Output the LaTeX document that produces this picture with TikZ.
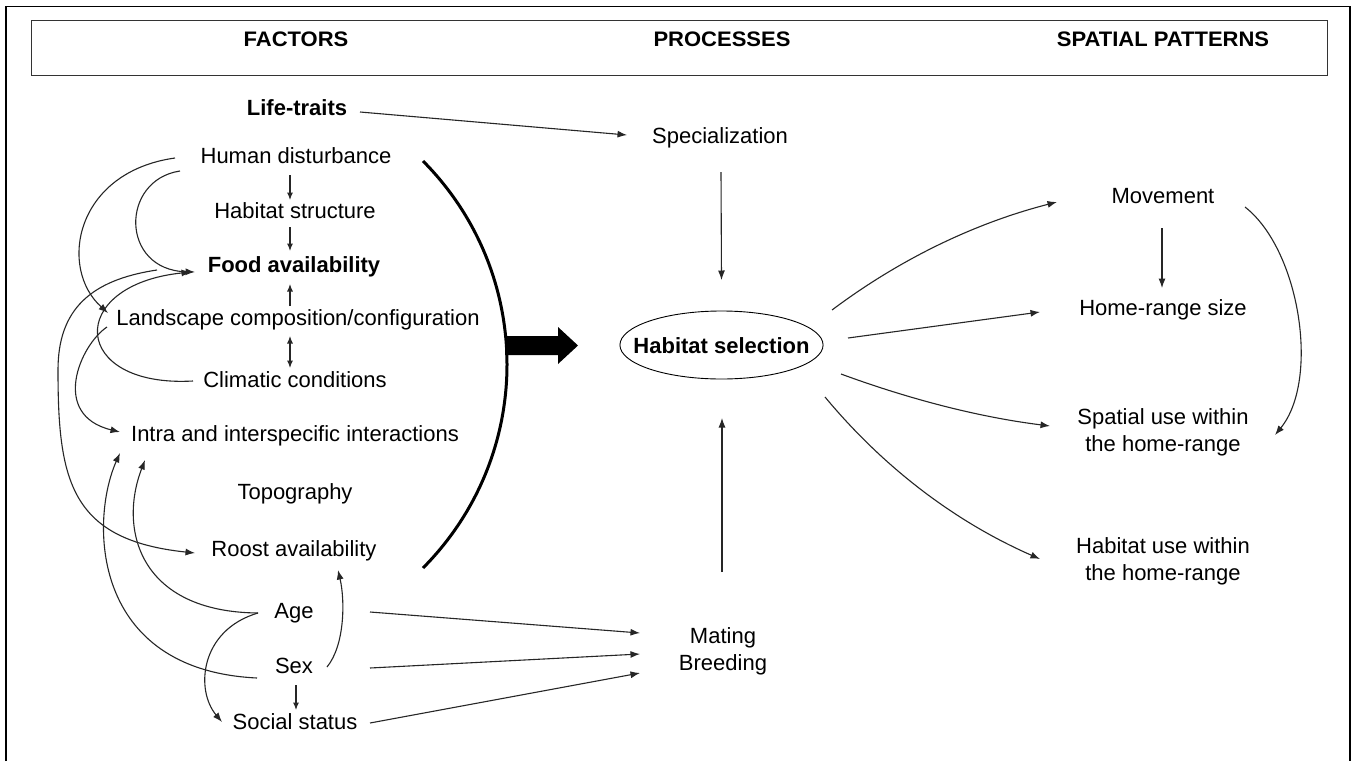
\documentclass[tikz,border=0pt]{standalone}
\usepackage{fontspec}
\setmainfont{Liberation Sans}
\usetikzlibrary{arrows.meta,shapes.geometric}
\begin{document}
\begin{tikzpicture}[x=1pt,y=-1pt,
  txt/.style={font=\fontsize{22}{27}\selectfont, inner sep=0pt, text height=16pt, text depth=5pt},
  txtb/.style={txt, font=\fontsize{22}{27}\selectfont\bfseries},
  txt2/.style={font=\fontsize{22}{27}\selectfont, inner sep=0pt, align=center},
  head/.style={font=\fontsize{20}{24}\selectfont\bfseries, inner sep=0pt, anchor=base},
  ell/.style={ellipse, draw, line width=0.9pt, inner xsep=-16.2pt, inner ysep=16pt, minimum width=203pt, minimum height=68pt, text height=16pt, text depth=0pt, font=\fontsize{22}{27}\selectfont\bfseries},
  con/.style={line width=1.1pt, draw=black!85, -{Latex[length=9.5pt,width=7pt]}},
  cons/.style={line width=1.1pt, draw=black!85, -{Latex[length=7.5pt,width=6pt]}},
  consd/.style={line width=1.1pt, draw=black!85, {Latex[length=7.5pt,width=6pt]}-{Latex[length=7.5pt,width=6pt]}}]
\useasboundingbox (0,0) rectangle (1357,761);
\fill[white] (0,0) rectangle (1357,761);
% frames
\draw[line width=1.6pt] (6,761) -- (6,6.5) -- (1350,6.5) -- (1350,761);
\node[draw, line width=1.2pt, draw=black!80, minimum width=1296pt, minimum height=55pt, inner sep=0pt, anchor=north west] (hdr) at (31,20) {};
\node[head] (h1) at (296,46) {\scalebox{1.1}[1.05]{FACTORS}};
\node[head] (h2) at (722,46) {\scalebox{1.1}[1.05]{PROCESSES}};
\node[head] (h3) at (1163,46) {\scalebox{1.1}[1.05]{SPATIAL PATTERNS}};
% nodes
\node[txtb] (lt) at (297,110) {Life-traits};
\node[txt] (hd) at (296,158) {Human disturbance};
\node[txt] (hst) at (295,213) {Habitat structure};
\node[txtb] (fa) at (294,267) {Food availability};
\node[txt] (lc) at (298,320) {Landscape composition/configuration};
\node[txt] (cc) at (295,382) {Climatic conditions};
\node[txt] (ii) at (295,436) {Intra and interspecific interactions};
\node[txt] (tp) at (295,494) {Topography};
\node[txt] (ra) at (294,551) {Roost availability};
\node[txt] (age) at (294,613) {Age};
\node[txt] (sex) at (294,668) {Sex};
\node[txt] (ss) at (295,724) {Social status};
\node[txt] (spec) at (720,138) {Specialization};
\node[ell] (hs) at (721.5,345) {Habitat selection};
\node[txt2] (mb) at (723,651) {Mating\\Breeding};
\node[txt] (mv) at (1163,198) {Movement};
\node[txt] (hr) at (1163,310) {Home-range size};
\node[txt2] (su) at (1163,432) {Spatial use within\\the home-range};
\node[txt2] (hu) at (1163,561) {Habitat use within\\the home-range};
% big arc and block arrow
\draw[line width=3pt] (423,161) .. controls (535,274) and (535,455) .. (423,568);
\fill (505,336) -- (558,336) -- (558,327) -- (578,345.5) -- (558,364) -- (558,355) -- (505,355) -- cycle;
% straight connectors
\draw[con] ([shift={(63,2)}]lt.center) -- ([shift={(-93,-3)}]spec.center);
\draw[cons] ([shift={(-6,17)}]hd.center) -- ([shift={(-5,-13)}]hst.center);
\draw[cons] ([shift={(-5,14)}]hst.center) -- ([shift={(-4,-16)}]fa.center);
\draw[cons] ([shift={(-8,-14)}]lc.center) -- ([shift={(-4,17)}]fa.center);
\draw[consd] ([shift={(-8,16)}]lc.center) -- ([shift={(-5,-14)}]cc.center);
\draw[cons] ([shift={(2,17)}]sex.center) -- ([shift={(1,-14)}]ss.center);
\draw[con] ([shift={(1,34)}]spec.center) -- ([shift={(0,-65)}]hs.center);
\draw[con] ([shift={(-1,-79)}]mb.center) -- ([shift={(0.5,73)}]hs.center);
\draw[con] ([shift={(76,-1)}]age.center) -- ([shift={(-83,-18)}]mb.center);
\draw[con] ([shift={(76,0)}]sex.center) -- ([shift={(-83,3)}]mb.center);
\draw[con] ([shift={(75,-1)}]ss.center) -- ([shift={(-83,22)}]mb.center);
% right side
\draw[con] ([shift={(110.5,-35)}]hs.center) .. controls +(68,-51) and +(-82,21) .. ([shift={(-106,4)}]mv.center);
\draw[con] ([shift={(126.5,-7)}]hs.center) -- ([shift={(-123,2)}]hr.center);
\draw[con] ([shift={(119.5,29)}]hs.center) .. controls +(68,25) and +(-72,-9) .. ([shift={(-113,-6)}]su.center);
\draw[con] ([shift={(103.5,52)}]hs.center) .. controls +(59,71) and +(-84.5,-37) .. ([shift={(-123,-2)}]hu.center);
\draw[con] ([shift={(82,9)}]mv.center) .. controls +(55,43) and +(45,-55) .. ([shift={(112,3)}]su.center);
\draw[con] ([shift={(-1,30)}]mv.center) -- ([shift={(-1,-22)}]hr.center);
% left curves
\draw[con] ([shift={(-121,0)}]hd.center) .. controls +(-100,14) and +(-50,-45) .. ([shift={(-190,-7)}]lc.center);
\draw[con] ([shift={(-116,13)}]hd.center) .. controls +(-60,9) and +(-75,-2) .. ([shift={(-99,5)}]fa.center);
\draw[con] ([shift={(-102,-1)}]cc.center) .. controls +(-123,7) and +(-126,13) .. ([shift={(-103,5)}]fa.center);
\draw[con] ([shift={(-137,3)}]fa.center) .. controls (90,280) and (58,310) .. (58,370) .. controls (58,480) and (70,540) .. ([shift={(-99,2)}]ra.center);
\draw[con] ([shift={(-191,7)}]lc.center) .. controls +(-27,18) and +(-70,-17) .. ([shift={(-175,-4)}]ii.center);
\draw[con] ([shift={(-36,0)}]age.center) .. controls +(-118,-1) and +(-27,70) .. ([shift={(-150,24)}]ii.center);
\draw[con] ([shift={(-36,0)}]age.center) .. controls +(-58,17) and +(-27,-32) .. ([shift={(-73,-2)}]ss.center);
\draw[con] ([shift={(-37,10)}]sex.center) .. controls +(-167,-8) and +(-30,67) .. ([shift={(-175,17)}]ii.center);
\draw[con] ([shift={(33,-1)}]sex.center) .. controls +(18,-22) and +(7,30) .. ([shift={(44,19)}]ra.center);
\end{tikzpicture}
\end{document}
